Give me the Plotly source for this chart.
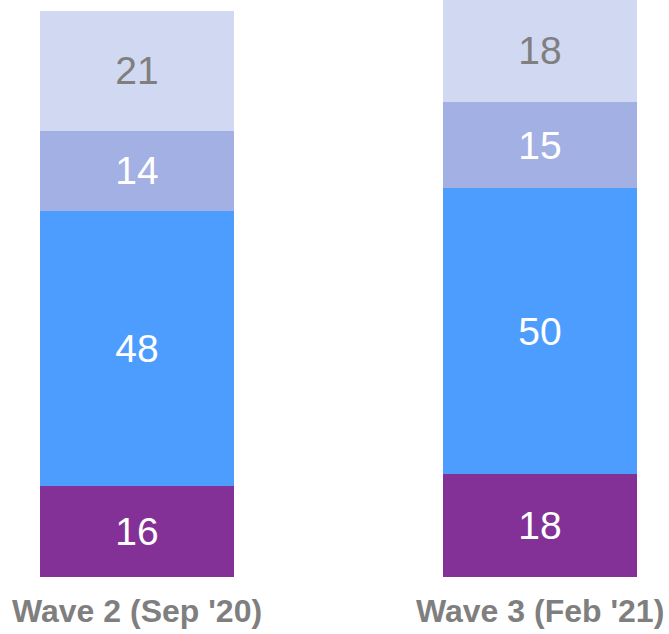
import plotly.graph_objects as go

# Survey waves and stacked segment values (bottom to top)
waves = ["Wave 2 (Sep '20)", "Wave 3 (Feb '21)"]
seg_bottom = [16, 18]
seg_blue = [48, 50]
seg_mid = [14, 15]
seg_top = [21, 18]

_COLORS = ["#833197", "#4D9DFF", "#A3B0E3", "#D1D8F1"]
_TEXT = ["white", "white", "white", "#7F7F7F"]

fig = go.Figure()
for values, color, text_color in zip(
    [seg_bottom, seg_blue, seg_mid, seg_top], _COLORS, _TEXT
):
    fig.add_trace(
        go.Bar(
            x=[0, 1],
            y=values,
            width=0.48,
            marker={"color": color, "line": {"width": 0}},
            text=[str(v) for v in values],
            textposition="inside",
            insidetextanchor="middle",
            textangle=0,
            constraintext="none",
            textfont={"family": "Liberation Sans, Arial", "size": 39, "color": text_color},
            hoverinfo="skip",
        )
    )

for i, label in enumerate(waves):
    fig.add_annotation(
        x=i,
        y=0,
        text=f"<b>{label}</b>",
        showarrow=False,
        yanchor="top",
        yshift=-14,
        font={"family": "Liberation Sans, Arial", "size": 32, "color": "#7F7F7F"},
    )

fig.update_layout(
    barmode="stack",
    width=669,
    height=634,
    margin={"l": 0, "r": 0, "t": 0, "b": 57},
    plot_bgcolor="white",
    paper_bgcolor="white",
    showlegend=False,
    xaxis={"range": [-0.34, 1.32], "visible": False},
    yaxis={"range": [0, 100.9], "visible": False},
)

# drop the default page margin so the figure sits at the window's corner
fig.write_html(
    "out.html",
    config={"displayModeBar": False},
    post_script="document.body.style.margin='0';",
)
